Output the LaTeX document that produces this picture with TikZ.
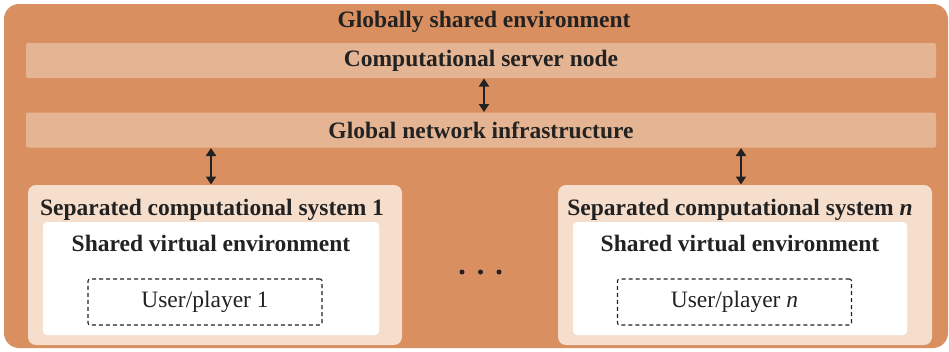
\documentclass[tikz,border=0pt]{standalone}
\usepackage{fontspec}
\setmainfont{Liberation Serif}
\usetikzlibrary{arrows.meta}
\definecolor{envorange}{RGB}{217,143,96}
\definecolor{barpeach}{RGB}{229,180,147}
\definecolor{syspeach}{RGB}{246,222,205}
\definecolor{ink}{RGB}{34,34,34}
\begin{document}
\begin{tikzpicture}[x=1pt,y=-1pt,
  box/.style={inner sep=0pt, outer sep=0pt},
  heading/.style={inner sep=0pt, text=ink, font=\fontsize{23.5}{26}\selectfont\bfseries},
  plain/.style={inner sep=0pt, text=ink, font=\fontsize{23.5}{26}\selectfont},
  bar/.style={box, fill=barpeach, rounded corners=2pt, minimum width=910pt, minimum height=35pt,
              text=ink, font=\fontsize{23.5}{26}\selectfont\bfseries},
  sysbox/.style={box, fill=syspeach, rounded corners=8pt, minimum width=374pt, minimum height=160pt},
  venvbox/.style={box, fill=white, rounded corners=4pt, minimum height=113pt},
  userbox/.style={box, draw=ink, line width=1.1pt, dash pattern=on 4pt off 3pt,
                  rounded corners=2pt, minimum width=234pt, minimum height=46pt},
  link/.style={draw=ink, line width=2.6pt,
               {Triangle[width=10pt,length=8pt]}-{Triangle[width=10pt,length=8pt]}, shorten <=0.5pt, shorten >=0.5pt},
  dot/.style={circle, fill=ink, inner sep=0pt, minimum size=5pt}
]
\useasboundingbox (0,0) rectangle (949,351);

% globally shared environment
\node[box, fill=envorange, rounded corners=15pt, minimum width=944pt, minimum height=344pt] (env) at (476,176) {};
\node[heading] (envtitle) at (484,22) {Globally shared environment};

% server and network bars
\node[bar] (server) at (481,60.5) {Computational server node};
\node[bar] (network) at (481,130) {Global network infrastructure};

% separated computational systems
\node[sysbox] (sys1) at (215,265) {};
\node[sysbox] (sysn) at (745,265) {};
\node[heading] (sys1title) at (212,210) {Separated computational system 1};
\node[heading] (sysntitle) at (740,210) {Separated computational system \textit{n}};

% shared virtual environments
\node[venvbox, minimum width=336pt] (venv1) at (211,278.5) {};
\node[venvbox, minimum width=334pt] (venvn) at (740,278.5) {};
\node[heading] (venv1title) at (211,243) {Shared virtual environment};
\node[heading] (venvntitle) at (740,243) {Shared virtual environment};

% users
\node[userbox, plain] (user1) at (205,302) {User/player 1};
\node[userbox, plain] (usern) at (734.5,302) {User/player \textit{n}};

% ellipsis between systems
\node[dot] (d1) at (462,272) {};
\node[dot] (d2) at (480.5,272) {};
\node[dot] (d3) at (499,272) {};

% connectors
\draw[link] ([xshift=3pt]server.south) -- ([xshift=3pt]network.north);
\draw[link] ([xshift=-4pt]sys1.north |- network.south) -- ([xshift=-4pt]sys1.north);
\draw[link] ([xshift=-4pt]sysn.north |- network.south) -- ([xshift=-4pt]sysn.north);
\end{tikzpicture}
\end{document}
